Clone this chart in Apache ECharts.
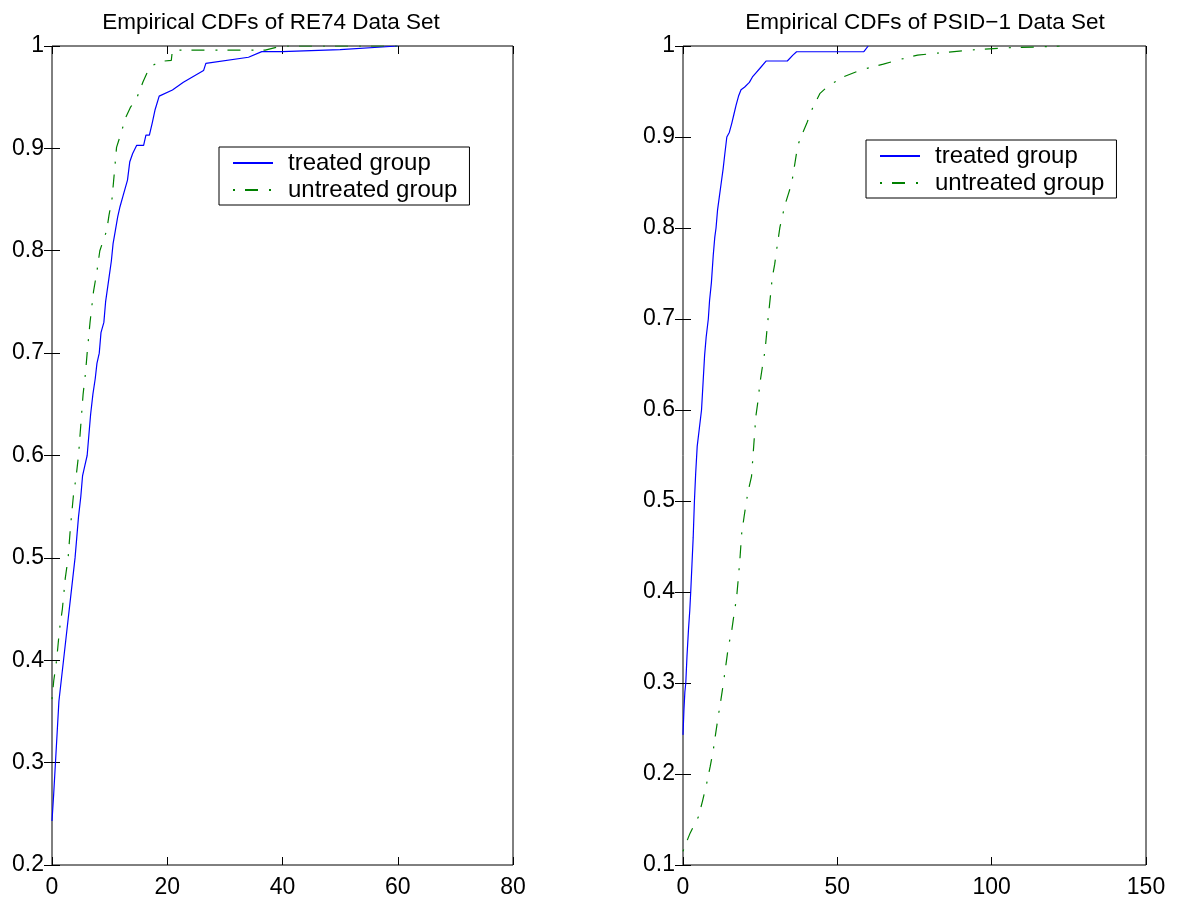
<!DOCTYPE html>
<html>
<head>
<meta charset="utf-8">
<script src="https://cdn.jsdelivr.net/npm/echarts@6/dist/echarts.min.js"></script>
<style>
html,body{margin:0;padding:0;background:#fff;}
#chart{width:1177px;height:904px;}
</style>
</head>
<body>
<div id="chart"></div>
<script>
// ---- Data ----
const titles = ['Empirical CDFs of RE74 Data Set', 'Empirical CDFs of PSID\u22121 Data Set'];
const legendNames = ['treated group', 'untreated group'];

const re74XTicks = [0, 20, 40, 60, 80];
const re74YTicks = [0.2, 0.3, 0.4, 0.5, 0.6, 0.7, 0.8, 0.9, 1];
const psidXTicks = [0, 50, 100, 150];
const psidYTicks = [0.1, 0.2, 0.3, 0.4, 0.5, 0.6, 0.7, 0.8, 0.9, 1];

const re74Treated = [
  [0,0.243],[0.3,0.27],[0.6,0.30],[0.9,0.33],[1.2,0.36],[1.6,0.38],[2.0,0.40],[2.4,0.42],[2.8,0.44],
  [3.2,0.46],[3.6,0.48],[4.0,0.50],[4.3,0.52],[4.6,0.54],[5.0,0.56],[5.3,0.58],[5.7,0.59],[6.1,0.60],
  [6.4,0.62],[6.7,0.64],[7.1,0.66],[7.5,0.675],[7.8,0.69],[8.2,0.70],[8.5,0.72],[9.0,0.73],[9.3,0.75],
  [9.9,0.774],[10.3,0.79],[10.6,0.807],[11.0,0.82],[11.4,0.833],[11.8,0.843],[12.4,0.855],[13.1,0.869],
  [13.5,0.887],[14.0,0.895],[14.7,0.903],[15.9,0.903],[16.3,0.913],[16.9,0.913],[17.4,0.925],[17.9,0.938],
  [18.6,0.951],[20.9,0.957],[22.8,0.9645],[26.3,0.976],[26.7,0.983],[34.1,0.989],[36.4,0.9945],
  [39.9,0.9945],[50,0.9965],[60,1]
];
const re74Untreated = [
  [0,0.362],[0.3,0.38],[0.8,0.40],[1.3,0.43],[1.8,0.45],[2.3,0.48],[2.8,0.50],[3.2,0.53],[3.7,0.56],
  [4.2,0.58],[4.6,0.60],[5.0,0.63],[5.4,0.66],[5.8,0.68],[6.1,0.70],[6.6,0.73],[7.2,0.76],[7.8,0.78],
  [8.3,0.80],[8.9,0.81],[9.5,0.82],[9.9,0.835],[10.4,0.85],[10.8,0.875],[11.2,0.901],[12.0,0.915],
  [12.7,0.929],[13.6,0.94],[14.7,0.949],[15.8,0.965],[17.0,0.98],[19.0,0.985],[20.7,0.986],[20.9,0.996],
  [37,0.996],[39.8,1],[60,1]
];
const psidTreated = [
  [0,0.243],[0.3,0.27],[0.6,0.29],[0.9,0.30],[1.3,0.33],[1.8,0.36],[2.2,0.38],[2.5,0.40],[2.9,0.43],
  [3.3,0.46],[3.7,0.50],[4.1,0.53],[4.6,0.56],[5.3,0.58],[6.0,0.60],[6.5,0.63],[7.0,0.66],[7.5,0.68],
  [8.2,0.70],[8.6,0.72],[9.2,0.74],[9.8,0.77],[10.3,0.79],[10.7,0.80],[11.2,0.82],[11.8,0.835],
  [12.4,0.85],[13.0,0.865],[13.5,0.88],[14.2,0.90],[15.0,0.905],[15.8,0.915],[16.5,0.925],[17.2,0.935],
  [18.0,0.945],[18.8,0.952],[20,0.955],[21.5,0.96],[22.5,0.966],[23.5,0.97],[24.8,0.975],[26.9,0.9835],
  [33.8,0.9835],[35.6,0.99],[36.8,0.9937],[58.6,0.9937],[60,1]
];
const psidUntreated = [
  [0,0.115],[1,0.124],[2.3,0.135],[3.5,0.143],[5,0.153],[6.3,0.17],[7.7,0.19],[8.8,0.208],[9.8,0.226],
  [10.6,0.245],[11.4,0.263],[12.3,0.282],[13.1,0.30],[13.9,0.32],[14.7,0.34],[15.8,0.358],[16.6,0.377],
  [17.4,0.395],[18.0,0.418],[18.5,0.439],[19.0,0.464],[19.8,0.483],[20.6,0.501],[21.4,0.515],[22.2,0.527],
  [22.9,0.56],[23.6,0.593],[24.3,0.61],[24.9,0.629],[25.7,0.647],[26.6,0.666],[27.4,0.695],[28.2,0.721],
  [28.9,0.745],[29.7,0.76],[30.5,0.78],[31.4,0.801],[32.2,0.813],[33.0,0.825],[34.2,0.838],[35.2,0.849],
  [36.2,0.87],[37.2,0.891],[38.6,0.903],[40.1,0.915],[42,0.932],[44.4,0.948],[47,0.956],[50,0.962],
  [51.9,0.966],[57.9,0.974],[64.9,0.98],[70,0.985],[76,0.99],[85,0.993],[95,0.996],[105,0.998],
  [115,0.999],[122,1]
];

// ---- Styling ----
const FONT = 'Liberation Sans, Arial, Helvetica, sans-serif';
const BLUE = '#0000ff';
const GREEN = '#008000';
const DASHDOT = [2, 10, 13, 11];

function fmt(v) { return String(+(+v).toFixed(2)); }

function axesFor(gridIndex, xTicks, yTicks) {
  const xmin = xTicks[0], xmax = xTicks[xTicks.length - 1], xint = xTicks[1] - xTicks[0];
  const ymin = yTicks[0], ymax = yTicks[yTicks.length - 1], yint = +(yTicks[1] - yTicks[0]).toFixed(2);
  const tick = { show: true, inside: true, length: 8, lineStyle: { color: '#000', width: 1 } };
  const xBase = { type: 'value', gridIndex, min: xmin, max: xmax, interval: xint,
    axisLine: { show: false }, splitLine: { show: false }, axisTick: tick };
  const yBase = { type: 'value', gridIndex, min: ymin, max: ymax, interval: yint,
    axisLine: { show: false }, splitLine: { show: false }, axisTick: tick };
  return {
    x: [
      Object.assign({}, xBase, { position: 'bottom',
        axisLabel: { show: true, color: '#000', fontFamily: FONT, fontSize: 23, margin: 11, formatter: fmt } }),
      Object.assign({}, xBase, { position: 'top', axisLabel: { show: false } })
    ],
    y: [
      Object.assign({}, yBase, { position: 'left',
        axisLabel: { show: true, color: '#000', fontFamily: FONT, fontSize: 23, margin: 8, formatter: fmt } }),
      Object.assign({}, yBase, { position: 'right', axisLabel: { show: false } })
    ]
  };
}

const a0 = axesFor(0, re74XTicks, re74YTicks);
const a1 = axesFor(1, psidXTicks, psidYTicks);

function lineSeries(name, data, xi, yi, color, dash) {
  return {
    name, type: 'line', data, xAxisIndex: xi, yAxisIndex: yi,
    symbol: 'none', showSymbol: false, smooth: false, animation: false,
    lineStyle: { color, width: 1.2, type: dash || 'solid' },
    itemStyle: { color }
  };
}

function legendAt(left, top) {
  return {
    left, top, orient: 'vertical',
    data: legendNames,
    itemWidth: 40, itemHeight: 14, itemGap: 3,
    padding: [4, 12, 3, 13],
    borderColor: '#000', borderWidth: 1, backgroundColor: '#fff',
    selectedMode: false,
    itemStyle: { color: 'transparent', borderWidth: 0, opacity: 0 },
    textStyle: { color: '#000', fontFamily: FONT, fontSize: 24, lineHeight: 24, padding: [0, 0, 0, 10] }
  };
}

const chart = echarts.init(document.getElementById('chart'), null, { renderer: 'canvas' });
chart.setOption({
  backgroundColor: '#fff',
  animation: false,
  grid: [
    { left: 52, top: 46, width: 461, height: 819, show: true, borderColor: '#000', borderWidth: 1, backgroundColor: 'transparent' },
    { left: 683, top: 46, width: 463, height: 819, show: true, borderColor: '#000', borderWidth: 1, backgroundColor: 'transparent' }
  ],
  xAxis: [a0.x[0], a0.x[1], a1.x[0], a1.x[1]],
  yAxis: [a0.y[0], a0.y[1], a1.y[0], a1.y[1]],
  series: [
    lineSeries(legendNames[0], re74Treated, 0, 0, BLUE),
    lineSeries(legendNames[1], re74Untreated, 0, 0, GREEN, DASHDOT),
    lineSeries(legendNames[0], psidTreated, 2, 2, BLUE),
    lineSeries(legendNames[1], psidUntreated, 2, 2, GREEN, DASHDOT)
  ],
  legend: [legendAt(219, 147), legendAt(866, 140)],
  graphic: [
    { type: 'text', x: 271, y: 11, style: { text: titles[0], fill: '#000', font: '22.5px ' + FONT, textAlign: 'center', textVerticalAlign: 'top' } },
    { type: 'text', x: 925, y: 11, style: { text: titles[1], fill: '#000', font: '22.5px ' + FONT, textAlign: 'center', textVerticalAlign: 'top' } }
  ]
});
</script>
</body>
</html>
